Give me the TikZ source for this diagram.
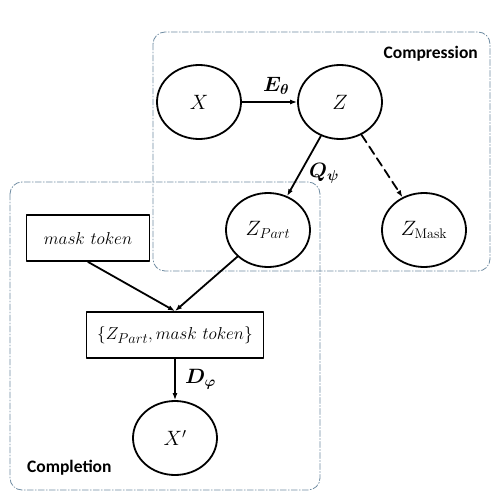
\documentclass[tikz,border=0pt]{standalone}
\usepackage{fontspec}
\usepackage{amsmath}
\usetikzlibrary{arrows.meta,positioning,shapes.geometric}
\newfontfamily\tagfont{Carlito}[BoldFont={Carlito Bold}]
\definecolor{vaeFrame}{HTML}{6F8CA2}
\definecolor{vaeInk}{HTML}{000000}

\begin{document}
\begin{tikzpicture}[x=1pt,y=-1pt,>={Latex[length=7pt,width=5pt]},line cap=round,line join=round]
\path[fill=white] (0,0) rectangle (500,503);
\useasboundingbox (0,0) rectangle (500,503);
\tikzset{frame/.style={draw=vaeFrame,line width=0.8pt,dash pattern=on 6pt off 2pt on 1pt off 2pt,rounded corners=12pt},
  latent/.style={draw=vaeInk,ellipse,line width=1.8pt,minimum width=84pt,minimum height=74pt,inner sep=0pt,font=\fontsize{20}{22}\selectfont},
  tokenbox/.style={draw=vaeInk,rectangle,line width=1.8pt,minimum height=46pt,inner sep=2pt,font=\fontsize{19}{21}\selectfont},
  flow/.style={draw=vaeInk,line width=1.8pt,->},
  steplabel/.style={font=\fontsize{20}{22}\selectfont},
  regionlabel/.style={font=\tagfont\bfseries\fontsize{17.5}{19}\selectfont,inner sep=0pt}}
\path[frame] (153,32) rectangle (490,271);
\path[frame] (10,182) rectangle (320,490);
\node[regionlabel,anchor=east] (compress) at (478,54) {Compression};
\node[regionlabel,anchor=west] (complete) at (27,468) {Completion};
\node[latent] (x) at (199,102) {$X$};
\node[latent] (z) at (340,102) {$Z$};
\node[latent] (zpart) at (268,230) {$Z_{Part}$};
\node[latent] (zmask) at (424,230) {$Z_{\mathrm{Mask}}$};
\node[tokenbox,minimum width=123pt] (mask) at (88,238) {$mask\ token$};
\node[tokenbox,minimum width=177pt] (merge) at (175,335) {$\{Z_{Part},mask\ token\}$};
\node[latent] (xrec) at (175,438) {$X'$};
\draw[flow] (x) -- (z) node[steplabel,pos=0.62,above=3pt] {$\boldsymbol{E_\theta}$};
\draw[flow] (z) -- (zpart) node[steplabel,pos=0.62,right=5pt] {$\boldsymbol{Q_\psi}$};
\draw[flow,dashed,dash pattern=on 9pt off 5pt] (z) -- (zmask);
\draw[flow] (mask.south) -- (merge.north);
\draw[flow] (zpart) -- (merge.north);
\draw[flow] (merge) -- (xrec) node[steplabel,midway,right=6pt] {$\boldsymbol{D_\varphi}$};
\end{tikzpicture}
\end{document}
